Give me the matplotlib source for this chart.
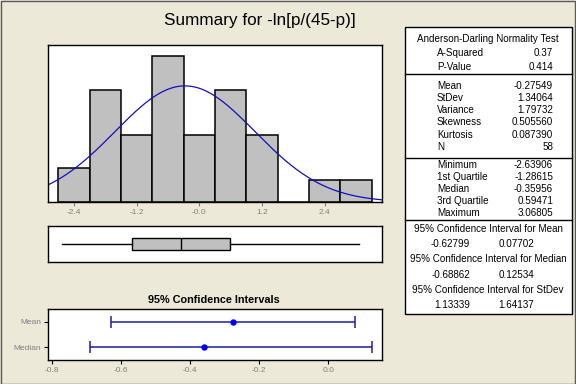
import numpy as np
import matplotlib
matplotlib.use("Agg")
import matplotlib.pyplot as plt
from matplotlib.patches import Rectangle

plt.rcParams['font.family'] = ['Liberation Sans', 'DejaVu Sans']

# ---- data
bin_edges = [-2.7, -2.1, -1.5, -0.9, -0.3, 0.3, 0.9, 1.5, 2.1, 2.7, 3.3]
counts = [3, 10, 6, 13, 6, 10, 6, 0, 2, 2]
hist_ticks = [-2.4, -1.2, 0.0, 1.2, 2.4]
hist_ticklabels = ['-2.4', '-1.2', '-0.0', '1.2', '2.4']

mean, stdev, n_obs = -0.27549, 1.34064, 58
minimum, q1, median, q3, maximum = -2.63906, -1.28615, -0.35956, 0.59471, 3.06805

ci_names = ['Mean', 'Median']
ci_center = [-0.27549, -0.35956]
ci_low = [-0.62799, -0.68862]
ci_high = [0.07702, 0.12534]
ci_ticks = [-0.8, -0.6, -0.4, -0.2, 0.0]

ad_rows = [('A-Squared', '0.37'), ('P-Value', '0.414')]
moment_rows = [('Mean', '-0.27549'), ('StDev', '1.34064'), ('Variance', '1.79732'),
               ('Skewness', '0.505560'), ('Kurtosis', '0.087390'), ('N', '58')]
quant_rows = [('Minimum', '-2.63906'), ('1st Quartile', '-1.28615'), ('Median', '-0.35956'),
              ('3rd Quartile', '0.59471'), ('Maximum', '3.06805')]
ci_rows = [('95% Confidence Interval for Mean', '-0.62799', '0.07702'),
           ('95% Confidence Interval for Median', '-0.68862', '0.12534'),
           ('95% Confidence Interval for StDev', '1.13339', '1.64137')]

W, H = 576, 384
BG = '#ECE9D8'
GRAY_TXT = '#808080'

fig = plt.figure(figsize=(W / 100, H / 100), dpi=100, facecolor=BG)


def px_axes(x0, y0, x1, y1):
    return fig.add_axes([x0 / W, 1 - y1 / H, (x1 - x0) / W, (y1 - y0) / H])


def ftext(x, y, s, **kw):
    fig.text(x / W, 1 - y / H, s, **kw)


# outer frame
fig.patches.append(Rectangle((0.5 / W, 0.5 / H), 1 - 1.5 / W, 1 - 1.5 / H, transform=fig.transFigure,
                             fill=False, ec='#5a5a5a', lw=1.0))

ftext(260, 20, 'Summary for -ln[p/(45-p)]', fontsize=12.3, ha='center', va='center', color='black')

# ---- histogram
ax = px_axes(48, 45, 382, 202)
widths = np.diff(bin_edges)
ax.bar(bin_edges[:-1], counts, width=widths, align='edge', color='#C0C0C0', edgecolor='black', lw=1.1)
xs = np.linspace(-2.9, 3.5, 300)
binw = widths[0]
# fitted normal curve from the shown mean / stdev, scaled to counts
pdf = n_obs * binw / (stdev * np.sqrt(2 * np.pi)) * np.exp(-0.5 * ((xs - mean) / stdev) ** 2)
ax.plot(xs, pdf, color='#1010C0', lw=0.9)
ax.set_xlim(-2.9, 3.5)
ax.set_ylim(0, 14)
ax.set_yticks([])
ax.set_xticks(hist_ticks)
ax.set_xticklabels(hist_ticklabels)
ax.tick_params(axis='x', labelsize=6, colors=GRAY_TXT, length=3, width=0.8, pad=2)
for sp in ax.spines.values():
    sp.set_linewidth(1.0)

# ---- boxplot
axb = px_axes(48, 226, 382, 262)
axb.boxplot([[minimum, q1, median, q3, maximum]], vert=False, positions=[0], widths=0.34,
            whis=(0, 100), patch_artist=True, showcaps=False,
            boxprops=dict(facecolor='#C0C0C0', edgecolor='black', lw=1.0),
            medianprops=dict(color='black', lw=1.0),
            whiskerprops=dict(color='black', lw=1.0))
axb.set_xlim(-2.9, 3.5)
axb.set_ylim(-0.5, 0.5)
axb.set_xticks([])
axb.set_yticks([])
for sp in axb.spines.values():
    sp.set_linewidth(1.0)

# ---- confidence intervals
ftext(214, 300, '95% Confidence Intervals', fontsize=7.8, fontweight='bold', ha='center', va='center')
axc = px_axes(48, 309, 382, 360)
ypos = [2, 1]
for y, c, lo, hi in zip(ypos, ci_center, ci_low, ci_high):
    axc.errorbar([c], [y], xerr=[[c - lo], [hi - c]], fmt='o', color='#0000FF', ms=3.6,
                 ecolor='#1E1EA0', elinewidth=1.1, capsize=4, capthick=1.1)
axc.set_xlim(-0.811, 0.155)
axc.set_ylim(0.5, 2.5)
axc.set_yticks(ypos)
axc.set_yticklabels(ci_names)
axc.set_xticks(ci_ticks)
axc.set_xticklabels(['%.1f' % t for t in ci_ticks])
axc.tick_params(labelsize=6, labelcolor=GRAY_TXT, color='black', length=3, width=0.8, pad=2)
for sp in axc.spines.values():
    sp.set_linewidth(1.0)

# ---- statistics panel
fig.patches.append(Rectangle((405 / W, 1 - 314 / H), 167 / W, 287 / H, transform=fig.transFigure,
                             fc='white', ec='black', lw=1.0))
for yy in [74, 158, 220]:
    fig.add_artist(plt.Line2D([405 / W, 572 / W], [1 - yy / H, 1 - yy / H], color='black', lw=1.0))

fs = 7.1
lab_x, val_x = 437, 553
ftext(488, 39, 'Anderson-Darling Normality Test', fontsize=fs, ha='center', va='center')
for (lab, val), yy in zip(ad_rows, [53, 66.5]):
    ftext(lab_x, yy, lab, fontsize=fs, va='center')
    ftext(val_x, yy, val, fontsize=fs, va='center', ha='right')
for (lab, val), yy in zip(moment_rows, [86, 98, 110, 122, 134.5, 146.5]):
    ftext(lab_x, yy, lab, fontsize=fs, va='center')
    ftext(val_x, yy, val, fontsize=fs, va='center', ha='right')
for (lab, val), yy in zip(quant_rows, [165.5, 177.5, 189.5, 201.5, 213.5]):
    ftext(lab_x, yy, lab, fontsize=fs, va='center')
    ftext(val_x, yy, val, fontsize=fs, va='center', ha='right')
for (head, lo, hi), yy in zip(ci_rows, [229, 259.5, 290]):
    ftext(488, yy, head, fontsize=fs, ha='center', va='center')
    ftext(470, yy + 15, lo, fontsize=fs, ha='right', va='center')
    ftext(534, yy + 15, hi, fontsize=fs, ha='right', va='center')

fig.savefig('out.png', dpi=100, facecolor=BG)
